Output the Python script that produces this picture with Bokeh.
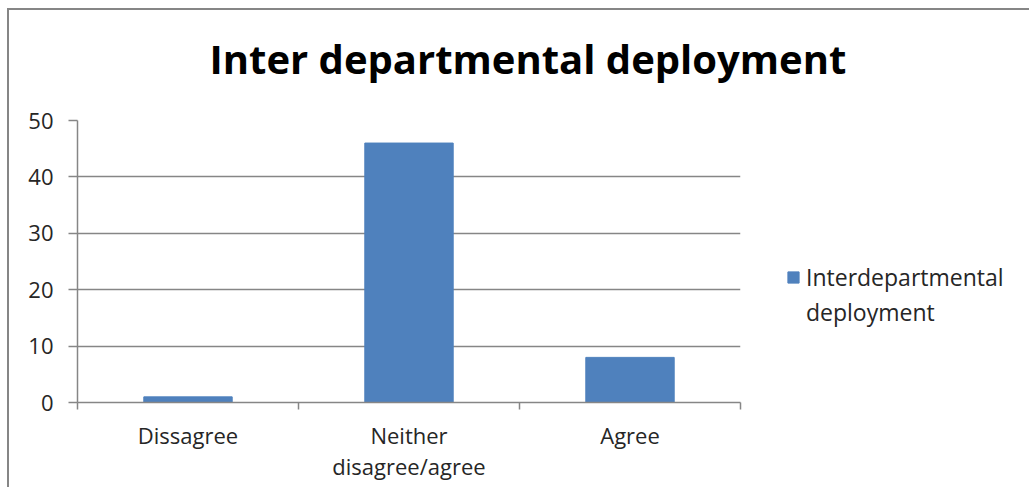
from bokeh.plotting import figure
from bokeh.models import (Range1d, FixedTicker, Legend, LegendItem, Title,
                          ColumnDataSource, InlineStyleSheet)
from bokeh.embed import file_html
from bokeh.resources import INLINE

# Survey responses on inter departmental deployment
categories = ["Dissagree", "Neither\ndisagree/agree", "Agree"]
counts = [1, 46, 8]
y_ticks = [0, 10, 20, 30, 40, 50]
series_name = "Interdepartmental deployment"
title_text = "Inter departmental deployment"

BAR_COLOR = "#4F81BD"
AXIS_GRAY = "#868686"
TEXT_COLOR = "#262626"
FONT = "Open Sans"

centers = [i + 0.5 for i in range(len(categories))]
source = ColumnDataSource(dict(x=centers, top=counts, cat=categories))

p = figure(frame_width=663, frame_height=282,
           x_range=Range1d(0, len(categories)), y_range=Range1d(0, 50),
           output_backend="svg", toolbar_location=None,
           min_border_left=68, min_border_right=289,
           min_border_top=110, min_border_bottom=87)
p.outline_line_color = None
p.background_fill_color = "white"
p.border_fill_color = "white"

# thin grey chart border on the page element, kept within the window
p.stylesheets = [InlineStyleSheet(css=(
    ":host { margin-left: 7px; margin-top: 8px; "
    "border-left: 2px solid #868686; border-top: 2px solid #868686; "
    "height: 479px !important; max-height: 479px !important; "
    "overflow: hidden !important; }"))]

r = p.vbar(x="x", top="top", width=0.4, source=source,
           fill_color=BAR_COLOR, line_color=BAR_COLOR)
# empty renderer carrying the wrapped second line of the legend entry
blank = p.vbar(x=[], top=[], width=0.4, fill_alpha=0, line_alpha=0)

# gap between the plot area and the title
p.add_layout(Title(text=" ", text_font_size="1px", standoff=27), "above")

# title
p.title.text = title_text
p.title.align = "left"
p.title.offset = 132
p.title.standoff = 10
p.title.text_font = FONT
p.title.text_font_style = "bold"
p.title.text_font_size = "40px"
p.title.text_color = "black"

# y axis
yax = p.yaxis[0]
yax.ticker = FixedTicker(ticks=y_ticks)
yax.axis_line_color = AXIS_GRAY
yax.axis_line_width = 1.5
yax.major_tick_line_color = AXIS_GRAY
yax.major_tick_line_width = 1.5
yax.major_tick_out = 9
yax.major_tick_in = 0
yax.minor_tick_line_color = None
yax.major_label_standoff = 15
yax.major_label_text_font = FONT
yax.major_label_text_font_size = "22px"
yax.major_label_text_color = TEXT_COLOR

# x axis: labels at category centres, tick marks at category boundaries
xax = p.xaxis[0]
xax.ticker = FixedTicker(ticks=centers,
                         minor_ticks=list(range(len(categories) + 1)))
xax.major_label_overrides = {c: lab for c, lab in zip(centers, categories)}
xax.axis_line_color = AXIS_GRAY
xax.axis_line_width = 1.5
xax.major_tick_line_color = None
xax.minor_tick_line_color = AXIS_GRAY
xax.minor_tick_line_width = 1.5
xax.minor_tick_out = 7
xax.minor_tick_in = 0
xax.major_label_standoff = 10
xax.major_label_text_font = FONT
xax.major_label_text_font_size = "22px"
xax.major_label_text_line_height = 1.04
xax.major_label_text_color = TEXT_COLOR

p.xgrid.grid_line_color = None
p.ygrid.ticker = FixedTicker(ticks=y_ticks)
p.ygrid.grid_line_color = AXIS_GRAY
p.ygrid.grid_line_width = 1.5

name_lines = series_name.split(" ")
legend = Legend(items=[LegendItem(label=name_lines[0], renderers=[r]),
                       LegendItem(label=name_lines[1], renderers=[blank])],
                location=(46, 74), border_line_color=None,
                background_fill_alpha=0, glyph_width=14, glyph_height=14,
                label_height=30, spacing=3,
                label_standoff=6, label_text_font=FONT,
                label_text_font_size="23px", label_text_color=TEXT_COLOR,
                padding=0, margin=0)
p.add_layout(legend, "right")

open("out.html", "w").write(file_html(p, INLINE))
